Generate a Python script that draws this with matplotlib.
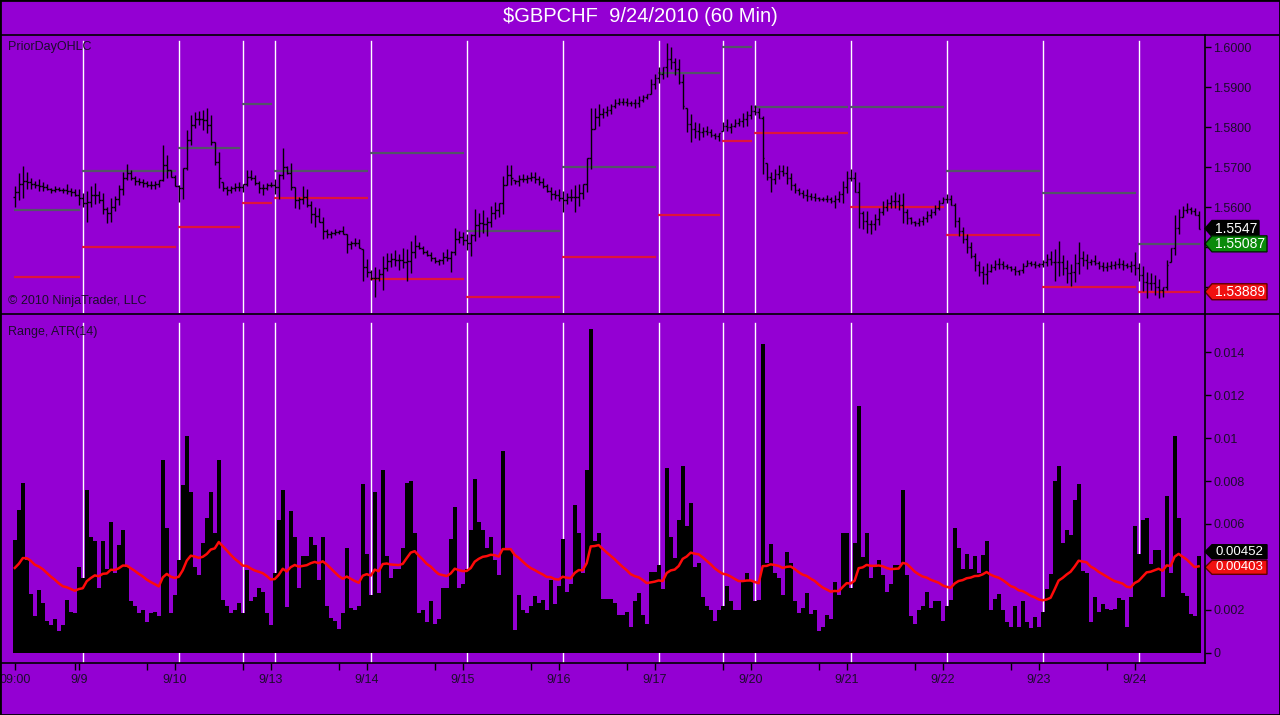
import numpy as np
import matplotlib
matplotlib.use("Agg")
import matplotlib.pyplot as plt
from matplotlib.lines import Line2D
from matplotlib.patches import Polygon, Rectangle
from matplotlib.ticker import FuncFormatter

plt.rcParams['font.family'] = ['Liberation Sans', 'DejaVu Sans']

# ---- data (one entry per 60 min bar) ----
# bar mid prices
mids = [
    1.5627, 1.5652, 1.5664, 1.5668, 1.5660, 1.5658, 1.5656, 1.5653, 1.5650, 1.5643,
    1.5645, 1.5646, 1.5643, 1.5645, 1.5639, 1.5637, 1.5627, 1.5618, 1.5602, 1.5627,
    1.5635, 1.5627, 1.5610, 1.5581, 1.5593, 1.5610, 1.5631, 1.5660, 1.5689, 1.5681,
    1.5668, 1.5664, 1.5662, 1.5658, 1.5656, 1.5656, 1.5660, 1.5710, 1.5702, 1.5685,
    1.5668, 1.5635, 1.5660, 1.5743, 1.5793, 1.5818, 1.5823, 1.5818, 1.5818, 1.5793,
    1.5735, 1.5693, 1.5652, 1.5643, 1.5645, 1.5650, 1.5652, 1.5648, 1.5673, 1.5681,
    1.5668, 1.5652, 1.5645, 1.5652, 1.5658, 1.5652, 1.5652, 1.5710, 1.5693, 1.5677,
    1.5625, 1.5612, 1.5631, 1.5623, 1.5589, 1.5577, 1.5581, 1.5548, 1.5535, 1.5532,
    1.5538, 1.5539, 1.5543, 1.5510, 1.5506, 1.5514, 1.5510, 1.5456, 1.5448, 1.5431,
    1.5414, 1.5431, 1.5435, 1.5464, 1.5468, 1.5473, 1.5464, 1.5473, 1.5456, 1.5477,
    1.5502, 1.5504, 1.5493, 1.5485, 1.5477, 1.5468, 1.5464, 1.5473, 1.5481, 1.5464,
    1.5514, 1.5527, 1.5523, 1.5514, 1.5506, 1.5556, 1.5556, 1.5564, 1.5552, 1.5577,
    1.5593, 1.5593, 1.5631, 1.5681, 1.5681, 1.5664, 1.5668, 1.5673, 1.5671, 1.5677,
    1.5674, 1.5668, 1.5660, 1.5648, 1.5635, 1.5632, 1.5631, 1.5614, 1.5622, 1.5631,
    1.5622, 1.5631, 1.5639, 1.5681, 1.5772, 1.5822, 1.5831, 1.5835, 1.5841, 1.5846,
    1.5860, 1.5864, 1.5864, 1.5864, 1.5860, 1.5860, 1.5864, 1.5873, 1.5877, 1.5902,
    1.5914, 1.5931, 1.5935, 1.5968, 1.5973, 1.5952, 1.5939, 1.5889, 1.5818, 1.5798,
    1.5793, 1.5789, 1.5789, 1.5793, 1.5785, 1.5779, 1.5777, 1.5802, 1.5806, 1.5798,
    1.5810, 1.5814, 1.5818, 1.5823, 1.5839, 1.5843, 1.5835, 1.5756, 1.5689, 1.5664,
    1.5677, 1.5689, 1.5693, 1.5681, 1.5664, 1.5648, 1.5639, 1.5633, 1.5631, 1.5627,
    1.5627, 1.5622, 1.5621, 1.5622, 1.5618, 1.5614, 1.5627, 1.5639, 1.5664, 1.5681,
    1.5664, 1.5606, 1.5568, 1.5564, 1.5552, 1.5564, 1.5577, 1.5598, 1.5606, 1.5614,
    1.5618, 1.5614, 1.5598, 1.5577, 1.5568, 1.5560, 1.5564, 1.5568, 1.5577, 1.5585,
    1.5593, 1.5606, 1.5618, 1.5623, 1.5618, 1.5581, 1.5552, 1.5531, 1.5510, 1.5493,
    1.5464, 1.5448, 1.5431, 1.5435, 1.5448, 1.5456, 1.5460, 1.5456, 1.5452, 1.5448,
    1.5443, 1.5437, 1.5448, 1.5460, 1.5460, 1.5457, 1.5456, 1.5460, 1.5468, 1.5473,
    1.5456, 1.5473, 1.5456, 1.5439, 1.5431, 1.5448, 1.5473, 1.5473, 1.5464, 1.5464,
    1.5468, 1.5456, 1.5452, 1.5452, 1.5456, 1.5456, 1.5460, 1.5456, 1.5454, 1.5452,
    1.5460, 1.5439, 1.5423, 1.5406, 1.5414, 1.5406, 1.5398, 1.5389, 1.5431, 1.5481,
    1.5531, 1.5564, 1.5589, 1.5598, 1.5593, 1.5589, 1.5568,
]
last_close = 1.5547

# bar range (high - low), in thousandths
ranges = [
    5.25, 6.65, 7.9, 4.3, 2.75, 1.7, 2.9, 2.3, 1.5, 1.3,
    1.55, 1.0, 1.3, 2.45, 1.9, 1.85, 4.0, 3.5, 7.6, 5.4,
    5.2, 3.0, 5.2, 3.9, 6.1, 3.7, 5.0, 5.7, 4.0, 2.4,
    2.2, 1.85, 2.0, 1.45, 1.85, 1.9, 1.7, 9.0, 5.8, 1.85,
    2.7, 4.3, 7.8, 10.1, 7.5, 4.0, 3.6, 5.1, 6.3, 7.5,
    5.6, 9.0, 2.45, 2.2, 1.85, 2.0, 2.3, 1.85, 3.85, 2.4,
    2.6, 3.0, 2.85, 1.85, 1.3, 3.7, 6.2, 7.6, 2.15, 6.6,
    5.4, 3.0, 4.5, 4.5, 5.4, 5.0, 3.4, 5.4, 2.2, 1.6,
    1.5, 1.1, 1.85, 4.9, 2.1, 2.0, 2.2, 7.85, 4.6, 2.7,
    7.5, 2.8, 8.5, 4.5, 3.5, 3.9, 3.9, 4.9, 7.9, 8.0,
    5.6, 1.85, 2.0, 1.45, 2.4, 1.35, 1.55, 3.0, 3.0, 5.3,
    6.8, 3.0, 3.2, 3.9, 5.7, 8.1, 6.1, 5.7, 4.9, 5.4,
    4.3, 3.6, 9.4, 4.8, 4.8, 1.05, 2.7, 2.0, 1.85, 2.2,
    2.65, 2.3, 2.45, 2.0, 3.4, 2.25, 3.1, 5.3, 2.85, 3.2,
    6.9, 5.6, 3.7, 8.5, 15.1, 5.2, 5.6, 2.5, 2.5, 2.5,
    2.3, 1.75, 1.75, 1.9, 1.2, 2.4, 2.8, 1.75, 1.35, 3.75,
    3.75, 4.1, 2.95, 8.6, 5.4, 4.4, 6.2, 8.7, 5.9, 7.0,
    4.0, 4.2, 2.6, 2.2, 2.0, 1.5, 2.0, 2.2, 3.1, 2.4,
    2.0, 2.0, 3.35, 3.7, 3.4, 2.4, 2.45, 14.4, 4.2, 5.05,
    3.7, 3.5, 2.7, 4.7, 4.2, 2.4, 1.85, 2.1, 2.8, 1.8,
    2.0, 1.0, 1.2, 1.75, 1.55, 3.3, 2.7, 5.6, 5.6, 3.0,
    5.1, 11.5, 4.45, 5.6, 3.5, 4.0, 4.3, 3.6, 2.85, 3.2,
    4.1, 4.1, 7.6, 3.6, 1.7, 1.35, 2.0, 2.2, 2.85, 2.1,
    2.4, 2.4, 1.5, 2.2, 2.45, 5.8, 4.9, 3.9, 4.6, 3.9,
    4.5, 3.7, 4.55, 5.2, 2.0, 2.5, 2.75, 2.0, 1.45, 1.2,
    2.2, 1.2, 2.4, 1.45, 1.15, 1.65, 1.2, 1.9, 2.95, 3.65,
    8.0, 8.7, 5.1, 5.7, 5.5, 7.1, 7.85, 3.8, 3.7, 1.45,
    2.6, 1.9, 2.25, 2.05, 2.0, 2.05, 2.55, 2.45, 1.2, 2.6,
    5.9, 4.6, 6.2, 6.3, 4.15, 4.8, 4.8, 2.6, 7.3, 3.7,
    10.1, 6.3, 2.8, 2.65, 1.8, 1.7, 4.52,
]
atr_start = 3.85

# sessions: first and last bar index, prior day high / low
sess_start = [0, 17, 41, 57, 65, 89, 113, 137, 161, 177, 185, 209, 233, 257, 281]
sess_end = [16, 40, 56, 64, 88, 112, 136, 160, 176, 184, 208, 232, 256, 280, 296]
prior_high = [1.5593, 1.5691, 1.5748, 1.5858, 1.5691, 1.5737, 1.5541, 1.5701,
              1.5937, 1.6000, 1.5851, 1.5851, 1.5691, 1.5636, 1.55087]
prior_low = [1.5427, 1.5502, 1.5552, 1.5612, 1.5623, 1.5421, 1.5376, 1.5476,
             1.5581, 1.5766, 1.5786, 1.5601, 1.5531, 1.5401, 1.53889]

# x axis labels
day_idx = [0, 16, 40, 64, 88, 112, 136, 160, 184, 208, 232, 256, 280]
day_labels = ['09:00', '9/9', '9/10', '9/13', '9/14', '9/15', '9/16', '9/17',
              '9/20', '9/21', '9/22', '9/23', '9/24']
minor_idx = [15, 33, 57, 81, 105, 129, 153, 177, 201, 225, 249, 273]

# axis labels that sit under the value tags in the reference
hidden_price_ticks = [1.54, 1.55]
hidden_range_ticks = [0.004]

# ---- build bars ----
mids = np.array(mids)
rng = np.array(ranges) / 1000.0
n = len(mids)
idx = np.arange(n)
highs = mids + rng / 2
lows = mids - rng / 2
closes = np.append((mids[:-1] + mids[1:]) / 2, last_close)
closes = np.clip(closes, lows, highs)
opens = np.clip(np.insert(closes[:-1], 0, mids[0]), lows, highs)

# ATR(14), Wilder smoothing
atr = []
a = atr_start / 1000.0
for r in rng:
    a = a + (r - a) / 14.0
    atr.append(a)
atr = np.array(atr)

bg = '#9400D3'
txt = '#1c0c2c'
W, H = 1280, 715


def fx(px):
    return px / W


def fy(py):
    return 1 - py / H


fig = plt.figure(figsize=(12.8, 7.15), dpi=100, facecolor=bg)
ax1 = fig.add_axes([fx(2), fy(313), fx(1205) - fx(2), fy(35) - fy(313)])
ax2 = fig.add_axes([fx(2), fy(663), fx(1205) - fx(2), fy(315) - fy(663)])

xlim = (-3.2, 297.6)
for ax in (ax1, ax2):
    ax.set_facecolor(bg)
    ax.set_xlim(*xlim)
    for s in ax.spines.values():
        s.set_visible(False)
    for s in sess_start[1:]:
        ax.axvline(s, color='white', lw=1, ymax=0.978, zorder=1)
    ax.yaxis.tick_right()
    ax.tick_params(axis='y', direction='out', length=4, width=1, color='black',
                   labelsize=9, labelcolor=txt, pad=2)


def price_fmt(v, p):
    if any(abs(v - h) < 1e-6 for h in hidden_price_ticks):
        return ''
    return '%.4f' % v


def range_fmt(v, p):
    if any(abs(v - h) < 1e-7 for h in hidden_range_ticks):
        return ''
    return '%g' % round(v, 6)


# ---- top panel: price bars + prior day high/low ----
ax1.set_ylim(1.53358, 1.60308)
ax1.vlines(idx, lows, highs, colors='black', lw=1, zorder=3)
ax1.hlines(opens, idx - 0.45, idx, colors='black', lw=1, zorder=3)
ax1.hlines(closes, idx, idx + 0.45, colors='black', lw=1, zorder=3)
st = np.array(sess_start)
en = np.array(sess_end)
ax1.hlines(prior_high, st - 0.1, en + 0.4, colors='#545468', lw=1.6, zorder=2)
ax1.hlines(prior_low, st - 0.1, en + 0.4, colors='#e0143c', lw=1.6, zorder=2)
ax1.set_yticks(np.arange(1.54, 1.6001, 0.01))
ax1.yaxis.set_major_formatter(FuncFormatter(price_fmt))
ax1.set_xticks([])

# ---- bottom panel: range bars + ATR ----
ax2.set_ylim(-0.00048, 0.01574)
ax2.bar(idx, rng, width=1.0, color='black', lw=0, zorder=2, antialiased=False)
ax2.plot(idx, atr, color='#ff0a0a', lw=1.8, zorder=4)
ax2.set_yticks(np.arange(0, 0.0141, 0.002))
ax2.yaxis.set_major_formatter(FuncFormatter(range_fmt))
ax2.set_xticks(day_idx)
ax2.set_xticklabels(day_labels)
ax2.set_xticks(minor_idx, minor=True)
ax2.tick_params(axis='x', which='both', direction='out', length=5, width=1,
                color='black', labelsize=9, labelcolor=txt, pad=3)


# ---- value tags on the right axis ----
def tag(ax, value, label, face, edge, w_px, h_px=8, shift_px=0, fs=10):
    y0, y1 = ax.get_ylim()
    per_px = (y1 - y0) / (ax.get_position().height * H)
    h = h_px * per_px
    c = value + shift_px * per_px
    aw = 1203.0
    pts = [(1.0, c), (1 + 7 / aw, c + h), (1 + w_px / aw, c + h),
           (1 + w_px / aw, c - h), (1 + 7 / aw, c - h)]
    ax.add_patch(Polygon(pts, closed=True, facecolor=face, edgecolor=edge, lw=1,
                         transform=ax.get_yaxis_transform(), clip_on=False, zorder=10))
    ax.text(1 + 10 / aw, c, label, transform=ax.get_yaxis_transform(),
            ha='left', va='center', color='white', fontsize=fs, zorder=11,
            clip_on=False)


tag(ax1, last_close, '%.4f' % last_close, 'black', 'black', 54)
tag(ax1, prior_high[-1], '%.5f' % prior_high[-1], '#0a8a0a', '#002200', 62)
tag(ax1, prior_low[-1], '%.5f' % prior_low[-1], '#f01010', '#600000', 62)
tag(ax2, rng[-1], '%.5f' % rng[-1], 'black', 'black', 62, 7, shift_px=4, fs=9.5)
tag(ax2, atr[-1], '%.5f' % atr[-1], '#f01010', '#600000', 62, 7, shift_px=-1, fs=9.5)

# ---- frame lines and texts ----
line_kw = dict(color='black', lw=1.2, transform=fig.transFigure)
fig.add_artist(Line2D([0, 1], [fy(34.5), fy(34.5)], **line_kw))
fig.add_artist(Line2D([0, 1], [fy(313.5), fy(313.5)], **line_kw))
fig.add_artist(Line2D([0, fx(1205)], [fy(663), fy(663)], **line_kw))
fig.add_artist(Line2D([fx(1205), fx(1205)], [fy(35), fy(663)], **line_kw))
fig.add_artist(Rectangle((0, 0), 1, 1, fill=False, edgecolor='black', lw=2,
                         transform=fig.transFigure))

fig.text(0.5, fy(17), r'\$GBPCHF  9/24/2010 (60 Min)', ha='center', va='center',
         color='white', fontsize=14.5)
fig.text(fx(8), fy(47), 'PriorDayOHLC', ha='left', va='center', color=txt, fontsize=9)
fig.text(fx(8), fy(301), '\u00a9 2010 NinjaTrader, LLC', ha='left', va='center',
         color=txt, fontsize=9)
fig.text(fx(8), fy(332), 'Range, ATR(14)', ha='left', va='center', color=txt, fontsize=9)

fig.savefig('out.png', dpi=100, facecolor=bg)
